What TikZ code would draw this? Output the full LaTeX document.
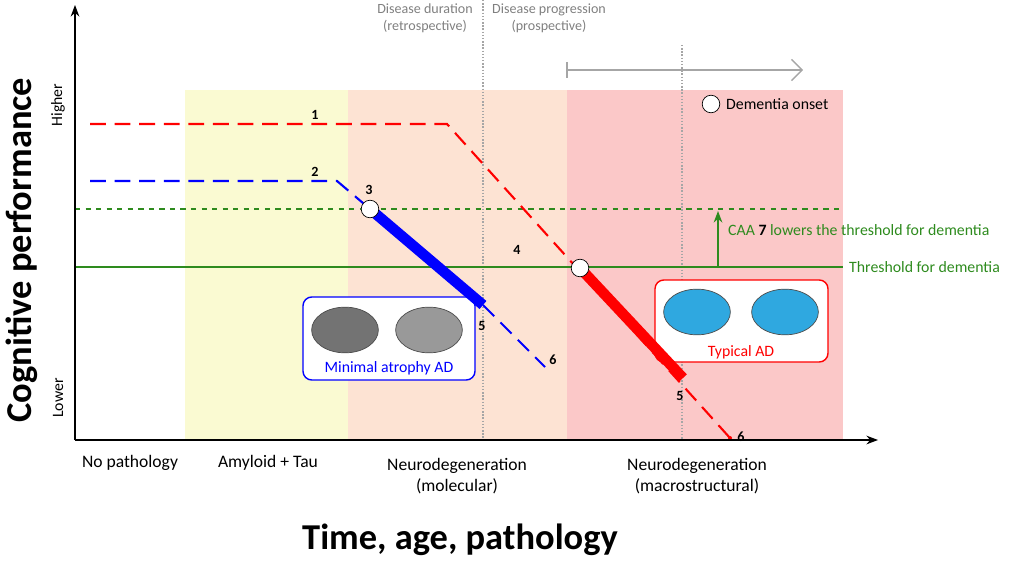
\documentclass[tikz,border=0pt]{standalone}
\usepackage{fontspec}
\setmainfont{Carlito}
\usetikzlibrary{arrows.meta,shapes.geometric}
\definecolor{ylw}{HTML}{FAFAD2}
\definecolor{peach}{HTML}{FDE3D3}
\definecolor{pinkbg}{HTML}{FBC8C8}
\definecolor{dgreen}{HTML}{2E8B1E}
\definecolor{brainblue}{HTML}{2FA8E0}
\tikzset{
  num/.style={font=\footnotesize\bfseries},
  onset/.style={circle,draw,fill=white,inner sep=0pt,minimum size=10pt},
  toplab/.style={gray,font=\footnotesize,align=center},
  xlab/.style={font=\normalsize,align=center},
  brain/.style={draw=black!70,fill=black!55,ellipse,minimum width=38pt,minimum height=26pt},
}
\begin{document}
\begin{tikzpicture}[x=0.02cm,y=-0.02cm]
    \useasboundingbox (0,0) rectangle (1020,564);
    % stage backgrounds
    \fill[ylw] (185,90) rectangle (348,440);
    \fill[peach] (348,90) rectangle (567,440);
    \fill[pinkbg] (567,90) rectangle (843,440);
    % time references
    \draw[gray!70,densely dotted,thick] (483,0) -- (483,440);
    \draw[gray!70,densely dotted,thick] (682,45) -- (682,440);
    \node[toplab] (dur) at (425,18) {Disease duration\\(retrospective)};
    \node[toplab] (prog) at (549,18) {Disease progression\\(prospective)};
    \draw[gray!70,thick] (567,62) -- (567,78);
    \draw[gray!70,thick,-{Straight Barb[length=6pt]}] (567,70) -- (803,70);
    % atrophy boxes
    \draw[blue,fill=white,rounded corners=5pt,thick] (303,297) rectangle (475,380);
    \node[brain] (b1) at (345,330) {};
    \node[brain,fill=black!40] (b2) at (429,330) {};
    \node[blue,font=\small] (ma) at (389,368) {Minimal atrophy AD};
    \draw[red,fill=white,rounded corners=5pt,thick] (655,280) rectangle (828,362);
    \node[brain,fill=brainblue] (b3) at (697,312) {};
    \node[brain,fill=brainblue] (b4) at (785,312) {};
    \node[red,font=\small] (ta) at (741,352) {Typical AD};
    % thresholds
    \draw[dgreen,thick,dashed] (75,209) -- (843,209);
    \draw[dgreen,thick] (75,267) -- (843,267);
    \draw[dgreen,thick,-{Stealth}] (718,267) -- (718,211);
    \node[dgreen,font=\small,anchor=west] (caa) at (722,230) {CAA \textbf{\textcolor{black}{7}} lowers the threshold for dementia};
    \node[dgreen,font=\small,anchor=west] (thr) at (843,267) {Threshold for dementia};
    % trajectories
    \draw[red,very thick,dash pattern=on 9pt off 5pt] (90,124) -- (447,124) -- (730,438);
    \draw[red,line width=6pt] (580,268) -- (683,378);
    \draw[blue,very thick,dash pattern=on 9pt off 5pt] (90,181) -- (337,181) -- (370,209);
    \draw[blue,line width=6pt] (370,209) -- (483,305);
    \draw[blue,very thick,dash pattern=on 9pt off 5pt] (483,305) -- (545,367);
    \fill[red] (730,438) circle (2);
    \node[num] (n1) at (315,115) {1};
    \node[num] (n2) at (315,172) {2};
    \node[num] (n3) at (369,190) {3};
    \node[num] (n4) at (517,250) {4};
    \node[num] (n5a) at (482,326) {5};
    \node[num] (n6a) at (553,360) {6};
    \node[num] (n5b) at (680,396) {5};
    \node[num] (n6b) at (741,437) {6};
    \node[onset] (o1) at (370,209) {};
    \node[onset] (o2) at (580,268) {};
    \node[onset] (o3) at (711,104) {};
    \node[font=\small,anchor=west] (leg) at (720,104) {Dementia onset};
    % axes
    \draw[thick,-{Stealth}] (75,440) -- (75,5);
    \draw[thick,-{Stealth}] (75,440) -- (878,440);
    \node[rotate=90,font=\small] (hi) at (58,105) {Higher};
    \node[rotate=90,font=\small] (lo) at (58,398) {Lower};
    \node[rotate=90,font=\huge\bfseries] (yl) at (22,250) {Cognitive performance};
    \node[xlab] (s0) at (130,463) {No pathology};
    \node[xlab] (s1) at (268,463) {Amyloid + Tau};
    \node[xlab,anchor=north] (s2) at (457,452) {Neurodegeneration\\(molecular)};
    \node[xlab,anchor=north] (s3) at (697,452) {Neurodegeneration\\(macrostructural)};
    \node[font=\huge\bfseries] (xl) at (460,540) {Time, age, pathology};
\end{tikzpicture}
\end{document}
